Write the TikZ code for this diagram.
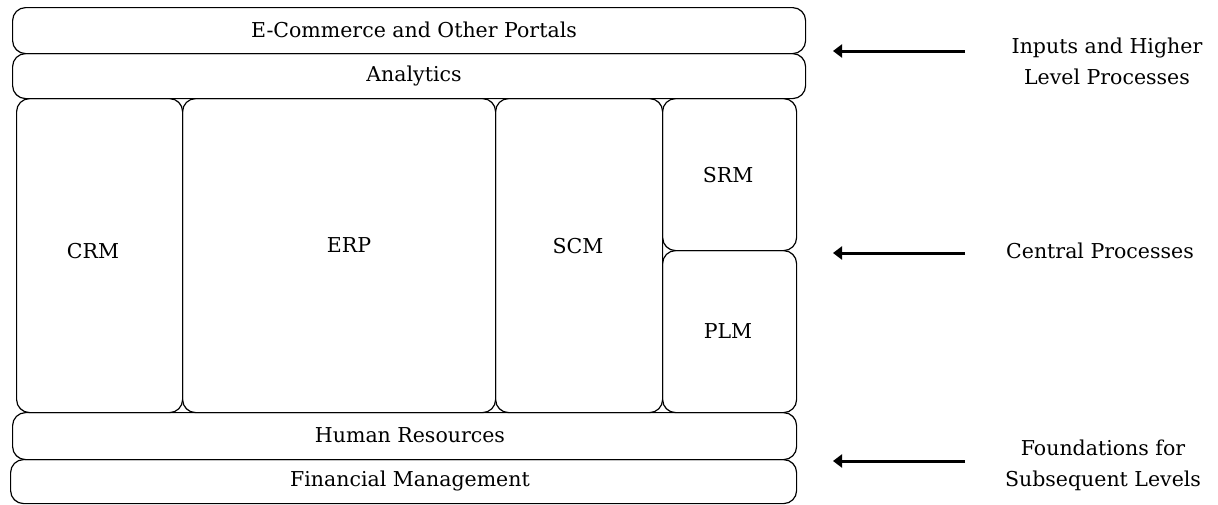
\documentclass[tikz,border=0pt]{standalone}
\usepackage{fontspec}
\setmainfont{DejaVu Serif}
\usetikzlibrary{arrows.meta}

\tikzset{
  blk/.style={draw, rounded corners=13pt, line width=1.2pt, inner sep=0pt,
              anchor=north west, minimum width=#1},
  lbl/.style={font=\fontsize{20.5}{28}\selectfont, inner sep=0pt},
  side/.style={font=\fontsize{20.5}{31}\selectfont, align=center, inner sep=0pt},
  arr/.style={line width=3pt, -{Triangle[length=9pt, width=13pt]}}
}

\begin{document}
\begin{tikzpicture}[x=1pt, y=-1pt]
\useasboundingbox (0,0) rectangle (1218,504);

% upper layers
\node[blk=793pt, minimum height=46pt] (ecom) at (12,7) {};
\node[blk=793pt, minimum height=45pt] (anl) at (12,53) {};
\node[lbl] (ecomT) at (414,30) {E-Commerce and Other Portals};
\node[lbl] (anlT) at (414,76) {Analytics};

% central processes
\node[blk=166pt, minimum height=314pt] (crm) at (16,98) {};
\node[blk=313pt, minimum height=314pt] (erp) at (182,98) {};
\node[blk=167pt, minimum height=314pt] (scm) at (495,98) {};
\node[blk=134pt, minimum height=152pt] (srm) at (662,98) {};
\node[blk=134pt, minimum height=162pt] (plm) at (662,250) {};
\node[lbl] (crmT) at (93,251) {CRM};
\node[lbl] (erpT) at (349,245) {ERP};
\node[lbl] (scmT) at (578,246) {SCM};
\node[lbl] (srmT) at (728,175) {SRM};
\node[lbl] (plmT) at (728,331) {PLM};

% foundation layers
\node[blk=784pt, minimum height=47pt] (hr) at (12,412) {};
\node[blk=786pt, minimum height=44pt] (fin) at (10,459) {};
\node[lbl] (hrT) at (410,435) {Human Resources};
\node[lbl] (finT) at (410,481) {Financial Management};

% side captions
\node[side] (inT) at (1107,61) {Inputs and Higher\\Level Processes};
\node[side] (cenT) at (1100,251) {Central Processes};
\node[side] (fouT) at (1103,465) {Foundations for\\Subsequent Levels};

% arrows pointing at the layers
\coordinate (inS) at (965,51);  \coordinate (inE) at (833,51);
\coordinate (cenS) at (965,253); \coordinate (cenE) at (833,253);
\coordinate (fouS) at (965,461); \coordinate (fouE) at (833,461);
\draw[arr] (inS) -- (inE);
\draw[arr] (cenS) -- (cenE);
\draw[arr] (fouS) -- (fouE);
\end{tikzpicture}
\end{document}
